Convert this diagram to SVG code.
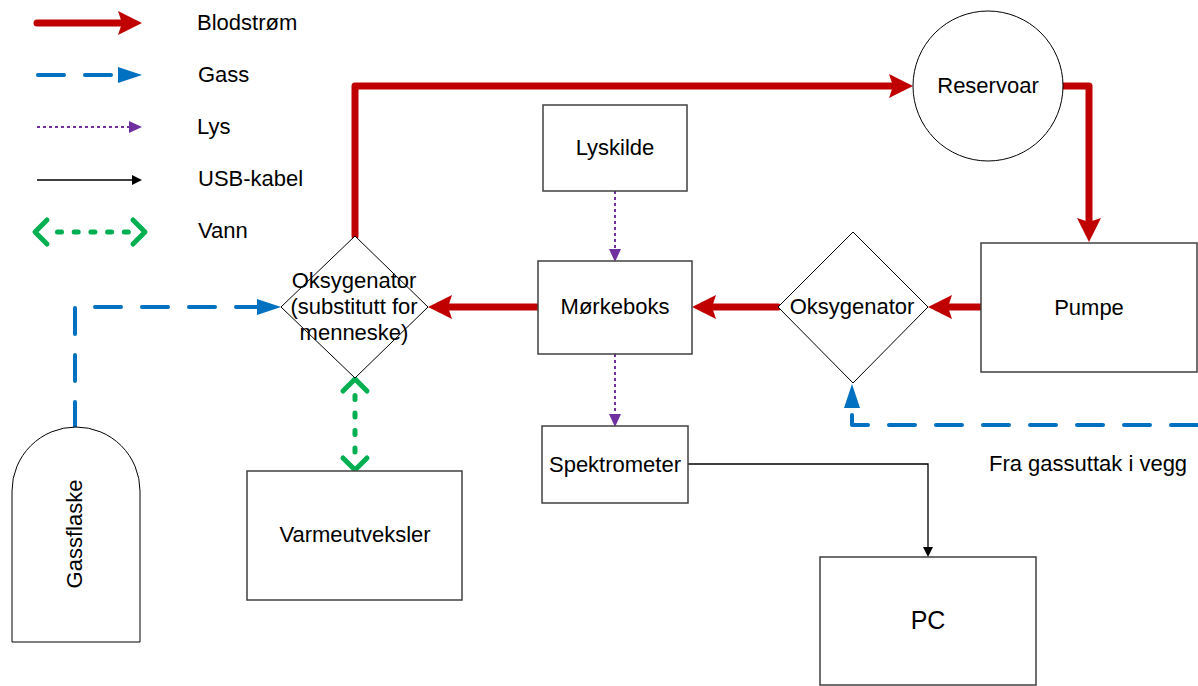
<svg xmlns="http://www.w3.org/2000/svg" width="1198" height="686" viewBox="0 0 1198 686">
<style>
  text { font-family: "Liberation Sans", Arial, sans-serif; font-size: 22px; fill: #000; }
  .c { text-anchor: middle; }
  .box { fill: #fff; stroke: #404040; stroke-width: 1.5; }
  .shape { fill: #fff; stroke: #000; stroke-width: 1; }
  .blood { fill: none; stroke: #C00000; stroke-width: 7; stroke-linecap: round; stroke-linejoin: round; }
  .gas { fill: none; stroke: #0070C0; stroke-width: 4; stroke-linecap: round; stroke-linejoin: round; stroke-dasharray: 26 21; }
  .light { fill: none; stroke: #7030A0; stroke-width: 2; stroke-dasharray: 3 3; }
  .usb { fill: none; stroke: #000; stroke-width: 1.3; }
  .water { fill: none; stroke: #00B050; stroke-width: 5; stroke-linecap: round; }
  .chev { fill: none; stroke: #00B050; stroke-width: 5; stroke-linecap: round; stroke-linejoin: round; }
</style>
<defs>
  <marker id="mRed" markerUnits="userSpaceOnUse" markerWidth="24" markerHeight="24" viewBox="0 0 24 24" refX="4" refY="12" orient="auto">
    <path d="M0,0 L24,12 L0,24 L4,12 z" fill="#C00000"/>
  </marker>
  <marker id="mBlue" markerUnits="userSpaceOnUse" markerWidth="24" markerHeight="16" viewBox="0 0 24 16" refX="1" refY="8" orient="auto">
    <path d="M0,0 L24,8 L0,16 z" fill="#0070C0"/>
  </marker>
  <marker id="mPurple" markerUnits="userSpaceOnUse" markerWidth="13" markerHeight="12" viewBox="0 0 13 12" refX="0" refY="6" orient="auto">
    <path d="M0,0 L13,6 L0,12 z" fill="#7030A0"/>
  </marker>
  <marker id="mBlack" markerUnits="userSpaceOnUse" markerWidth="10" markerHeight="10" viewBox="0 0 10 10" refX="0" refY="5" orient="auto">
    <path d="M0,0 L10,5 L0,10 z" fill="#000"/>
  </marker>
</defs>
<rect width="1198" height="686" fill="#fff"/>

<g id="legend">
  <path class="blood" d="M37,23 H122" marker-end="url(#mRed)"/>
  <text x="197" y="30">Blodstrøm</text>
  <path class="gas" d="M38,75 H119" marker-end="url(#mBlue)"/>
  <text x="198" y="82">Gass</text>
  <path class="light" d="M37,127 H129" marker-end="url(#mPurple)"/>
  <text x="197" y="134">Lys</text>
  <path class="usb" d="M37,180 H132" marker-end="url(#mBlack)"/>
  <text x="198" y="186">USB-kabel</text>
  <path class="water" d="M57.5,232 H129.5" stroke-dasharray="4 12.7"/>
  <polyline class="chev" points="47,220 35,232 47,244"/>
  <polyline class="chev" points="133,220 145,232 133,244"/>
  <text x="198" y="238">Vann</text>
</g>

<g id="connectors">
  <path class="blood" d="M355,236 V86 H893" marker-end="url(#mRed)"/>
  <path class="blood" d="M1063,86 H1089 V222" marker-end="url(#mRed)"/>
  <path class="blood" d="M981,307 H948" marker-end="url(#mRed)"/>
  <path class="blood" d="M778,307 H712" marker-end="url(#mRed)"/>
  <path class="blood" d="M538,307 H448" marker-end="url(#mRed)"/>
  <path class="gas" d="M75,428 V307 H258" marker-end="url(#mBlue)"/>
  <path class="gas" d="M1197,425 H852 V407" marker-end="url(#mBlue)"/>
  <path class="light" d="M615,191 V249" marker-end="url(#mPurple)"/>
  <path class="light" d="M615,354 V414" marker-end="url(#mPurple)"/>
  <path class="usb" d="M688,464 H928 V547" marker-end="url(#mBlack)"/>
  <path class="water" d="M355,395.5 V455.5" stroke-dasharray="4 13.5"/>
  <polyline class="chev" points="343,391 355,379 367,391"/>
  <polyline class="chev" points="343,458 355,470 367,458"/>
</g>

<g id="reservoar">
  <circle class="shape" cx="988" cy="86" r="75"/>
  <text class="c" x="988" y="93">Reservoar</text>
</g>
<g id="pumpe">
  <rect class="box" x="981" y="243" width="216" height="129"/>
  <text class="c" x="1089" y="315">Pumpe</text>
</g>
<g id="oksygenator">
  <polygon class="shape" points="853,232 928,307 853,383 778,307"/>
  <text class="c" x="852" y="314">Oksygenator</text>
</g>
<g id="morkeboks">
  <rect class="box" x="538" y="261" width="154" height="93"/>
  <text class="c" x="615" y="314">Mørkeboks</text>
</g>
<g id="oksygenator-menneske">
  <polygon class="shape" points="355,236 428,307 355,378 281,307"/>
  <text class="c" x="354" y="288">Oksygenator</text>
  <text class="c" x="354" y="314">(substitutt for</text>
  <text class="c" x="354" y="340">menneske)</text>
</g>
<g id="lyskilde">
  <rect class="box" x="543" y="105" width="144" height="86"/>
  <text class="c" x="615" y="155">Lyskilde</text>
</g>
<g id="spektrometer">
  <rect class="box" x="542" y="426" width="146" height="77"/>
  <text class="c" x="615" y="472">Spektrometer</text>
</g>
<g id="varmeutveksler">
  <rect class="box" x="247" y="471" width="215" height="129"/>
  <text class="c" x="355" y="542">Varmeutveksler</text>
</g>
<g id="pc">
  <rect class="box" x="820" y="557" width="216" height="128"/>
  <text class="c" x="928" y="629" style="font-size:25px">PC</text>
</g>
<g id="gassflaske">
  <path class="shape" d="M12,642 V491 A64,64 0 0 1 140,491 V642 Z"/>
  <text class="c" transform="translate(82,534) rotate(-90)">Gassflaske</text>
</g>
<g id="gassuttak-label">
  <text x="989" y="471">Fra gassuttak i vegg</text>
</g>
</svg>
